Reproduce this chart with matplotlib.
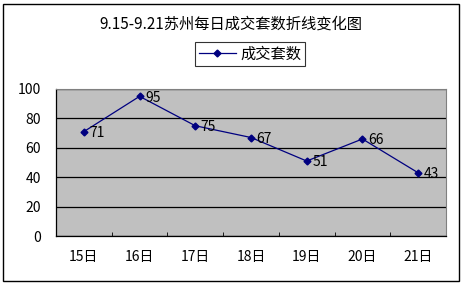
import numpy as np
import matplotlib.pyplot as plt
from matplotlib.patches import Rectangle

plt.rcParams['font.family'] = ['Noto Sans CJK SC', 'DejaVu Sans']

# data
days = ["15日", "16日", "17日", "18日", "19日", "20日", "21日"]
deals = [71, 95, 75, 67, 51, 66, 43]
title = "9.15-9.21苏州每日成交套数折线变化图"
series_name = "成交套数"

W, H = 463, 285
fig = plt.figure(figsize=(W / 100, H / 100), dpi=100)
fig.patch.set_facecolor("white")

# outer chart border
fig.add_artist(Rectangle((3 / W, 4 / H), 456 / W, 277 / H, transform=fig.transFigure,
                         fill=False, edgecolor="black", linewidth=1))

ax = fig.add_axes([56 / W, 1 - 236 / H, 390 / W, 147 / H])
ax.set_facecolor("#c0c0c0")

x = np.arange(len(days))
line, = ax.plot(x, deals, color="#000080", linewidth=0.9, marker="D",
                markersize=3.5, markerfacecolor="#000080", markeredgecolor="#000080",
                label=series_name)
for xi, v in zip(x, deals):
    ax.text(xi + 0.1, v - 1, str(v), fontsize=10, va="center", ha="left", color="black")

ax.set_xlim(-0.5, len(days) - 0.5)
ax.set_ylim(0, 100)
ax.set_yticks(np.arange(0, 101, 20))
ax.yaxis.grid(True, color="black", linewidth=0.9)
ax.set_axisbelow(True)
ax.tick_params(axis="y", length=0, labelsize=10, pad=11)

ax.set_xticks(x)
ax.set_xticklabels(days, fontsize=10)
ax.tick_params(axis="x", length=0, pad=10)
ax.set_xticks(np.arange(0.5, len(days) - 1, 1), minor=True)
ax.tick_params(axis="x", which="minor", direction="in", length=3, color="black")

for side in ["top", "right"]:
    ax.spines[side].set_color("#808080")
    ax.spines[side].set_linewidth(0.8)
for side in ["left", "bottom"]:
    ax.spines[side].set_color("black")
    ax.spines[side].set_linewidth(0.9)

fig.text(231 / W, 1 - 24 / H, title, fontsize=11, ha="center", va="center")

leg = fig.legend(handles=[line], loc="center", bbox_to_anchor=(250 / W, 1 - 54 / H),
                 fontsize=11, frameon=True, fancybox=False, handlelength=2.4,
                 borderpad=0.25, handletextpad=0.3)
leg.get_frame().set_edgecolor("black")
leg.get_frame().set_linewidth(0.8)

fig.savefig("out.png", dpi=100)
